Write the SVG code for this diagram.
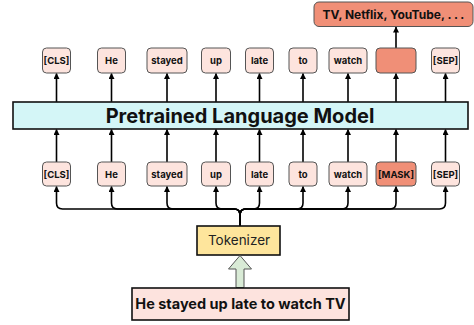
<svg xmlns="http://www.w3.org/2000/svg" width="474" height="325" viewBox="0 0 474 325">
  <defs>
    <marker id="head" markerUnits="userSpaceOnUse" markerWidth="6" markerHeight="6" refX="5.5" refY="3" orient="auto" viewBox="0 0 6 6">
      <path d="M0,0 L6,3 L0,6 Z" fill="#000"/>
    </marker>
    <style>
      .tok { fill: #fde4de; stroke: #555; stroke-width: 1; }
      .hot { fill: #f08f77; stroke: #555; stroke-width: 1; }
      .lbl { font-family: Inter, "Liberation Sans", sans-serif; font-weight: 700; font-size: 9.5px; text-anchor: middle; fill: #111; }
      .big { font-family: Inter, "Liberation Sans", sans-serif; font-weight: 700; text-anchor: middle; fill: #111; }
      .up { fill: none; stroke: #000; stroke-width: 1.6; marker-end: url(#head); }
    </style>
  </defs>

  <!-- connectors -->
  <g id="connectors">
    <!-- top row to output -->
    <path class="up" d="M396,48 V27"/>
    <!-- model to top row -->
    <path class="up" d="M56.5,102 V73.5"/>
    <path class="up" d="M111.5,102 V73.5"/>
    <path class="up" d="M167,102 V73.5"/>
    <path class="up" d="M216,102 V73.5"/>
    <path class="up" d="M259.5,102 V73.5"/>
    <path class="up" d="M303,102 V73.5"/>
    <path class="up" d="M348,102 V73.5"/>
    <path class="up" d="M396,102 V73.5"/>
    <path class="up" d="M445.5,102 V73.5"/>
    <!-- bottom row to model -->
    <path class="up" d="M56.5,162 V129.5"/>
    <path class="up" d="M111.5,162 V129.5"/>
    <path class="up" d="M167,162 V129.5"/>
    <path class="up" d="M216,162 V129.5"/>
    <path class="up" d="M259.5,162 V129.5"/>
    <path class="up" d="M303,162 V129.5"/>
    <path class="up" d="M348,162 V129.5"/>
    <path class="up" d="M396,162 V129.5"/>
    <path class="up" d="M445.5,162 V129.5"/>
    <!-- tokenizer fan-out -->
    <path class="up" d="M240,226 V215 Q240,209 234,209 H62.5 Q56.5,209 56.5,203 V186.5"/>
    <path class="up" d="M240,226 V215 Q240,209 234,209 H117.5 Q111.5,209 111.5,203 V186.5"/>
    <path class="up" d="M240,226 V215 Q240,209 234,209 H173 Q167,209 167,203 V186.5"/>
    <path class="up" d="M240,226 V215 Q240,209 234,209 H222 Q216,209 216,203 V186.5"/>
    <path class="up" d="M240,226 V215 Q240,209 246,209 H253.5 Q259.5,209 259.5,203 V186.5"/>
    <path class="up" d="M240,226 V215 Q240,209 246,209 H297 Q303,209 303,203 V186.5"/>
    <path class="up" d="M240,226 V215 Q240,209 246,209 H342 Q348,209 348,203 V186.5"/>
    <path class="up" d="M240,226 V215 Q240,209 246,209 H390 Q396,209 396,203 V186.5"/>
    <path class="up" d="M240,226 V215 Q240,209 246,209 H439.5 Q445.5,209 445.5,203 V186.5"/>
  </g>

  <!-- output -->
  <g id="output">
    <rect x="314" y="2" width="159" height="24.5" rx="5" class="hot"/>
    <text x="393.5" y="18.5" class="big" font-size="12">TV, Netflix, YouTube, . . .</text>
  </g>

  <!-- upper token row -->
  <g id="out-cls"><rect x="42.5" y="48" width="28" height="25" rx="4" class="tok"/><text x="56.5" y="64" class="lbl">[CLS]</text></g>
  <g id="out-he"><rect x="97.5" y="48" width="28" height="25" rx="4" class="tok"/><text x="111.5" y="64" class="lbl">He</text></g>
  <g id="out-stayed"><rect x="147" y="48" width="40" height="25" rx="4" class="tok"/><text x="167" y="64" class="lbl">stayed</text></g>
  <g id="out-up"><rect x="201.5" y="48" width="29" height="25" rx="4" class="tok"/><text x="216" y="64" class="lbl">up</text></g>
  <g id="out-late"><rect x="245.5" y="48" width="28" height="25" rx="4" class="tok"/><text x="259.5" y="64" class="lbl">late</text></g>
  <g id="out-to"><rect x="289" y="48" width="28" height="25" rx="4" class="tok"/><text x="303" y="64" class="lbl">to</text></g>
  <g id="out-watch"><rect x="329" y="48" width="38" height="25" rx="4" class="tok"/><text x="348" y="64" class="lbl">watch</text></g>
  <g id="out-mask"><rect x="376" y="48" width="40" height="25" rx="4" class="hot"/></g>
  <g id="out-sep"><rect x="431.5" y="48" width="28" height="25" rx="4" class="tok"/><text x="445.5" y="64" class="lbl">[SEP]</text></g>

  <!-- model -->
  <g id="model">
    <rect x="13" y="102" width="455" height="27" fill="#d4f6f7" stroke="#111" stroke-width="1.6"/>
    <text x="240" y="122.5" class="big" font-size="20">Pretrained Language Model</text>
  </g>

  <!-- lower token row -->
  <g id="in-cls"><rect x="42.5" y="162" width="28" height="24" rx="4" class="tok"/><text x="56.5" y="177.5" class="lbl">[CLS]</text></g>
  <g id="in-he"><rect x="97.5" y="162" width="28" height="24" rx="4" class="tok"/><text x="111.5" y="177.5" class="lbl">He</text></g>
  <g id="in-stayed"><rect x="147" y="162" width="40" height="24" rx="4" class="tok"/><text x="167" y="177.5" class="lbl">stayed</text></g>
  <g id="in-up"><rect x="201.5" y="162" width="29" height="24" rx="4" class="tok"/><text x="216" y="177.5" class="lbl">up</text></g>
  <g id="in-late"><rect x="245.5" y="162" width="28" height="24" rx="4" class="tok"/><text x="259.5" y="177.5" class="lbl">late</text></g>
  <g id="in-to"><rect x="289" y="162" width="28" height="24" rx="4" class="tok"/><text x="303" y="177.5" class="lbl">to</text></g>
  <g id="in-watch"><rect x="329" y="162" width="38" height="24" rx="4" class="tok"/><text x="348" y="177.5" class="lbl">watch</text></g>
  <g id="in-mask"><rect x="376" y="162" width="40" height="24" rx="4" class="hot"/><text x="396" y="177.5" class="lbl">[MASK]</text></g>
  <g id="in-sep"><rect x="431.5" y="162" width="28" height="24" rx="4" class="tok"/><text x="445.5" y="177.5" class="lbl">[SEP]</text></g>

  <!-- tokenizer -->
  <g id="tokenizer">
    <rect x="197" y="226" width="83" height="29" fill="#fee59c" stroke="#111" stroke-width="1.6"/>
    <text x="239" y="245" font-family="Inter, 'Liberation Sans', sans-serif" font-weight="400" font-size="13.5" text-anchor="middle" fill="#222">Tokenizer</text>
  </g>

  <!-- block arrow from sentence to tokenizer -->
  <g id="feed">
    <path d="M236,287.5 V269 H228.5 L240,255.5 L251.5,269 H244 V287.5 Z" fill="#d9ebd6" stroke="#555" stroke-width="1"/>
  </g>

  <!-- input sentence -->
  <g id="sentence">
    <rect x="132" y="288" width="217" height="32" fill="#fde3de" stroke="#111" stroke-width="1.6"/>
    <text x="240.5" y="309" class="big" font-size="14.5">He stayed up late to watch TV</text>
  </g>
</svg>
